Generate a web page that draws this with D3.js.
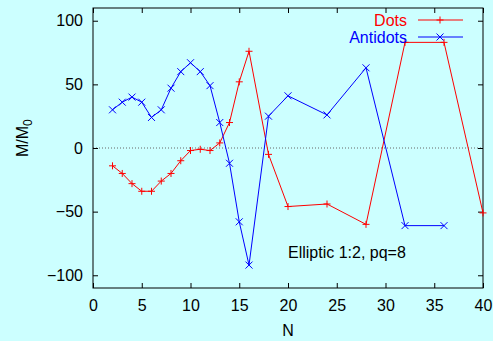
<!DOCTYPE html>
<html><head><meta charset="utf-8">
<script src="https://cdn.jsdelivr.net/npm/d3@7"></script>
<style>html,body{margin:0;padding:0;background:#ccffff;}svg{display:block;}</style>
</head><body>
<script>
const dotsN = [2,3,4,5,6,7,8,9,10,11,12,13,14,15,16,18,20,24,28,32,36,40];
const dotsM = [-14,-20,-28,-34,-34,-26,-20,-10,-2,-1,-2,4,20,52,76,-5,-46,-44,-60,83,83,-51];
const antiN = [2,3,4,5,6,7,8,9,10,11,12,13,14,15,16,18,20,24,28,32,36];
const antiM = [30,36,40,36,24,30,47,60,67,60,49,20,-12,-58,-92,25,41,26,63,-61,-61];
const xTicks = [0,5,10,15,20,25,30,35,40];
const yTicks = [-100,-50,0,50,100];

const W = 493, H = 341;
const L = 93, R = 483, T = 8, B = 288;
const svg = d3.select("body").append("svg").attr("width", W).attr("height", H)
  .style("font-family", "'Liberation Sans', Arial, sans-serif");
svg.append("rect").attr("width", W).attr("height", H).attr("fill", "#ccffff");

const x = d3.scaleLinear().domain([0, 40]).range([L, R]);
const y = d3.scaleLinear().domain([-110, 110]).range([B, T]);

// zero line
svg.append("line").attr("x1", L).attr("x2", R).attr("y1", y(0)).attr("y2", y(0))
  .attr("stroke", "#666").attr("stroke-width", 1).attr("stroke-dasharray", "1,2");

// axes (inward ticks, mirrored)
const ax = (axis, tx, ty) => {
  const g = svg.append("g").attr("transform", `translate(${tx},${ty})`).call(axis);
  g.select(".domain").remove();
  g.selectAll("line").attr("stroke", "#000");
  g.selectAll("text").attr("fill", "#000").style("font-size", "16px");
  return g;
};
ax(d3.axisBottom(x).tickValues(xTicks).tickSize(-5).tickPadding(12), 0, B);
ax(d3.axisTop(x).tickValues(xTicks).tickSize(-5).tickFormat(""), 0, T);
ax(d3.axisLeft(y).tickValues(yTicks).tickSize(-5).tickPadding(10), L, 0);
ax(d3.axisRight(y).tickValues(yTicks).tickSize(-5).tickFormat(""), R, 0);

svg.append("rect").attr("x", L).attr("y", T).attr("width", R - L).attr("height", B - T)
  .attr("fill", "none").attr("stroke", "#000").attr("stroke-width", 1);

const line = d3.line();
function series(ns, ms, color, marker) {
  const pts = ns.map((n, i) => [x(n), y(ms[i])]);
  svg.append("path").attr("d", line(pts)).attr("fill", "none").attr("stroke", color).attr("stroke-width", 1);
  pts.forEach(p => drawMarker(p[0], p[1], color, marker));
}
function drawMarker(cx, cy, color, marker) {
  const s = 3.5;
  const d = marker === "+"
    ? `M${cx - s},${cy}H${cx + s}M${cx},${cy - s}V${cy + s}`
    : `M${cx - s},${cy - s}L${cx + s},${cy + s}M${cx - s},${cy + s}L${cx + s},${cy - s}`;
  svg.append("path").attr("d", d).attr("stroke", color).attr("stroke-width", 1).attr("fill", "none");
}
series(dotsN, dotsM, "#ff0000", "+");
series(antiN, antiM, "#0000ff", "x");

// legend
const leg = [["Dots", "#ff0000", "+", 20], ["Antidots", "#0000ff", "x", 37]];
leg.forEach(([label, color, mk, ly]) => {
  svg.append("text").attr("x", 407).attr("y", ly + 6).attr("text-anchor", "end")
    .attr("fill", color).style("font-size", "16px").text(label);
  svg.append("line").attr("x1", 418).attr("x2", 463).attr("y1", ly).attr("y2", ly)
    .attr("stroke", color).attr("stroke-width", 1);
  drawMarker(440, ly, color, mk);
});

// annotation
svg.append("text").attr("x", 288).attr("y", 258).attr("fill", "#000")
  .style("font-size", "16px").text("Elliptic 1:2, pq=8");

// axis labels
svg.append("text").attr("x", x(20)).attr("y", 336).attr("text-anchor", "middle")
  .attr("fill", "#000").style("font-size", "16px").text("N");
const yl = svg.append("text").attr("transform", "translate(28,157) rotate(-90)")
  .attr("fill", "#000").style("font-size", "16px");
yl.append("tspan").text("M/M");
yl.append("tspan").attr("dy", 4).style("font-size", "12px").text("0");
</script>
</body></html>
